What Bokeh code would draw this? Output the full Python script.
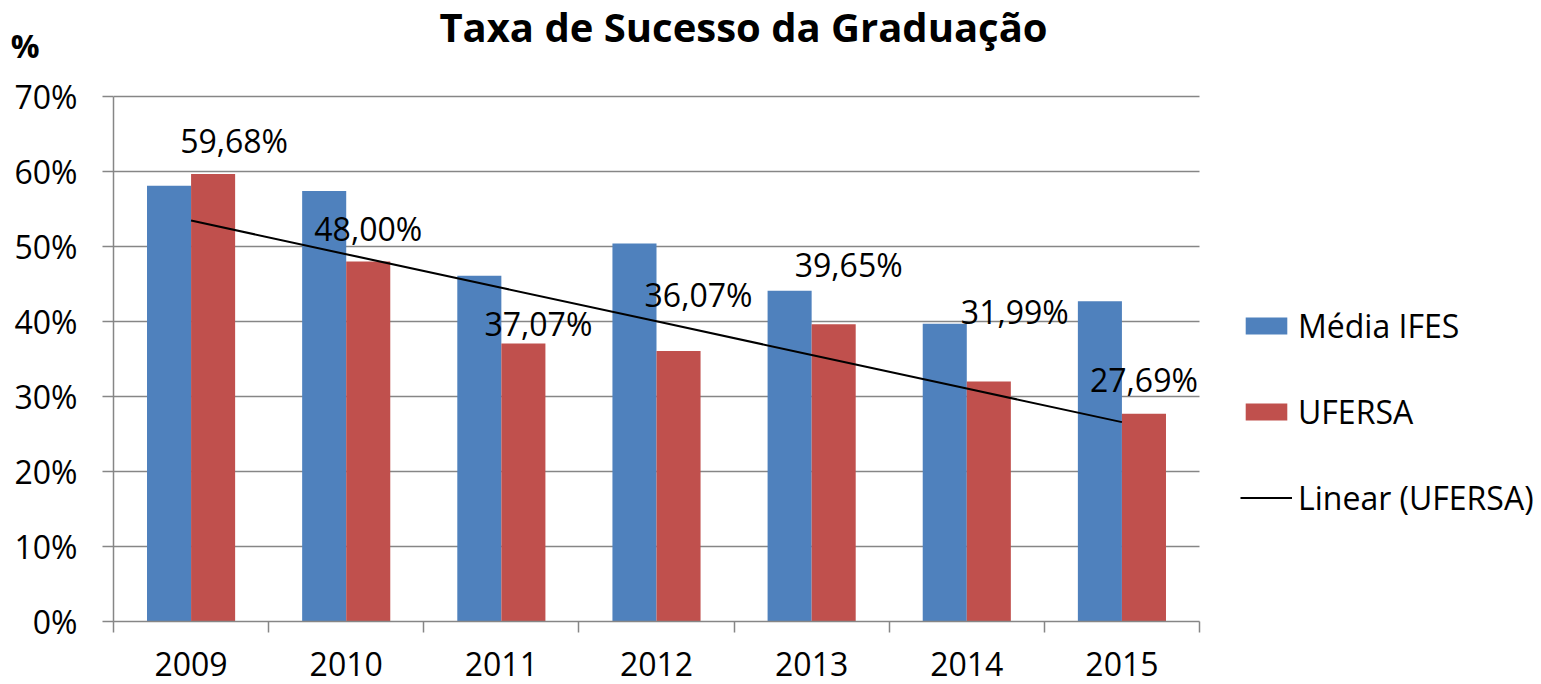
from bokeh.plotting import figure
from bokeh.models import (ColumnDataSource, FixedTicker, PrintfTickFormatter, Legend,
                          LegendItem, Label, Range1d, LinearAxis)
from bokeh.embed import file_html
from bokeh.resources import INLINE
from bokeh.core.properties import value
import numpy as np

# ---- data ----
years = ["2009", "2010", "2011", "2012", "2013", "2014", "2015"]
media_ifes = [58.1, 57.4, 46.1, 50.4, 44.1, 39.7, 42.7]
ufersa = [59.68, 48.00, 37.07, 36.07, 39.65, 31.99, 27.69]
ufersa_labels = ["59,68%", "48,00%", "37,07%", "36,07%", "39,65%", "31,99%", "27,69%"]
y_ticks = [0, 10, 20, 30, 40, 50, 60, 70]

# ---- label nudges (px), as placed in the original ----
label_dx = [21, 0, 15, 20, 15, 26, 0]
label_dy = [-33, -33, -20, -56, -60, -70, -34]

FONT = "Open Sans"
BLUE = "#4F81BD"
RED = "#C0504D"
GRID = "#868686"

W, H = 1541, 684
LEFT, BOTTOM = 113, 63
PLOT_RIGHT_PX = 1199        # pixel column where the category axis ends
PLOT_TOP_PX = 96            # pixel row of the 70% line
FRAME_H = H - BOTTOM
FRAME_W = W - LEFT
n = len(years)
y_max = 70 * FRAME_H / (FRAME_H - PLOT_TOP_PX)          # frame reaches canvas top
x_max = -0.5 + n * FRAME_W / (PLOT_RIGHT_PX - LEFT)      # frame reaches canvas right

idx = list(range(n))
bar_w = 0.284
x_blue = [i - bar_w / 2 for i in idx]
x_red = [i + bar_w / 2 for i in idx]

coef = np.polyfit(idx, ufersa, 1)
trend = list(np.polyval(coef, idx))

src = ColumnDataSource(dict(x_blue=x_blue, x_red=x_red, ifes=media_ifes, uf=ufersa,
                            lab=ufersa_labels, dx=label_dx, dy=label_dy))

p = figure(width=W, height=H, output_backend="svg", toolbar_location=None, title=None,
           x_range=Range1d(-0.5, x_max), y_range=Range1d(0, y_max),
           min_border_left=LEFT, min_border_right=0, min_border_top=0,
           min_border_bottom=BOTTOM)
p.outline_line_color = None
p.background_fill_color = "white"
p.border_fill_color = "white"

# grid (limited to the category span)
if "cross_bounds" in p.ygrid[0].properties():
    p.ygrid.ticker = FixedTicker(ticks=y_ticks)
    p.ygrid.grid_line_color = GRID
    p.ygrid.grid_line_width = 1.5
    p.ygrid.cross_bounds = (-0.5, n - 0.5)
else:
    p.ygrid.visible = False
    p.segment(x0=[-0.5] * len(y_ticks), x1=[n - 0.5] * len(y_ticks), y0=y_ticks, y1=y_ticks,
              line_color=GRID, line_width=1.5, level="underlay")
p.xgrid.visible = False

r_ifes = p.vbar(x="x_blue", top="ifes", width=bar_w, bottom=0, source=src,
                fill_color=BLUE, line_color=None)
r_uf = p.vbar(x="x_red", top="uf", width=bar_w, bottom=0, source=src,
              fill_color=RED, line_color=None)
r_tr = p.line(x=idx, y=trend, line_color="black", line_width=2)

p.text(x="x_red", y="uf", text="lab", x_offset="dx", y_offset="dy", source=src,
       text_align="center", text_baseline="middle", text_font=value(FONT),
       text_font_size="32px", text_color="black")

# x axis
xa = p.xaxis[0]
xa.bounds = (-0.5, n - 0.5)
xa.ticker = FixedTicker(ticks=idx, minor_ticks=[i - 0.5 for i in range(n + 1)])
xa.major_label_overrides = {i: years[i] for i in idx}
xa.major_tick_out = 0
xa.major_tick_in = 0
xa.minor_tick_out = 11
xa.minor_tick_in = 0
xa.minor_tick_line_color = GRID
xa.minor_tick_line_width = 1.5
xa.axis_line_color = GRID
xa.axis_line_width = 1.5
xa.major_label_text_font = FONT
xa.major_label_text_font_size = "32px"
xa.major_label_text_color = "black"
xa.major_label_standoff = 19

# y axis
ya = p.yaxis[0]
ya.bounds = (0, 70)
ya.ticker = FixedTicker(ticks=y_ticks)
ya.formatter = PrintfTickFormatter(format="%d%%")
ya.major_tick_out = 11
ya.major_tick_in = 0
ya.minor_tick_out = 0
ya.minor_tick_in = 0
ya.major_tick_line_color = GRID
ya.major_tick_line_width = 1.5
ya.axis_line_color = GRID
ya.axis_line_width = 1.5
ya.major_label_text_font = FONT
ya.major_label_text_font_size = "32px"
ya.major_label_text_color = "black"
ya.major_label_standoff = 25

# unit marker "%" above the y axis (an extra, bare axis)
pct_at = 76.8
unit_axis = LinearAxis(ticker=FixedTicker(ticks=[pct_at]),
                       major_label_overrides={pct_at: "%"},
                       axis_line_color=None, major_tick_line_color=None,
                       minor_tick_line_color=None, major_tick_out=0, major_tick_in=0,
                       major_label_standoff=-28, major_label_text_font=FONT,
                       major_label_text_font_size="32px", major_label_text_font_style="bold",
                       major_label_text_color="black")
p.add_layout(unit_axis, "left")

# title (inside the frame, which reaches the canvas top)
p.add_layout(Label(x=743 - LEFT, y=FRAME_H - 26, x_units="screen", y_units="screen",
                   text="Taxa de Sucesso da Graduação", text_align="center",
                   text_baseline="alphabetic", text_font=FONT, text_font_size="40px",
                   text_font_style="bold", text_color="black"))

legend = Legend(items=[LegendItem(label="Média IFES", renderers=[r_ifes]),
                       LegendItem(label="UFERSA", renderers=[r_uf]),
                       LegendItem(label="Linear (UFERSA)", renderers=[r_tr])],
                location=(1240 - LEFT, 102), orientation="vertical",
                glyph_width=52, glyph_height=21, label_standoff=6, spacing=43,
                padding=0, margin=0, border_line_color=None, background_fill_alpha=0,
                label_text_font=FONT, label_text_font_size="32px", label_text_color="black")
p.add_layout(legend)

open("out.html", "w").write(file_html(p, INLINE))
